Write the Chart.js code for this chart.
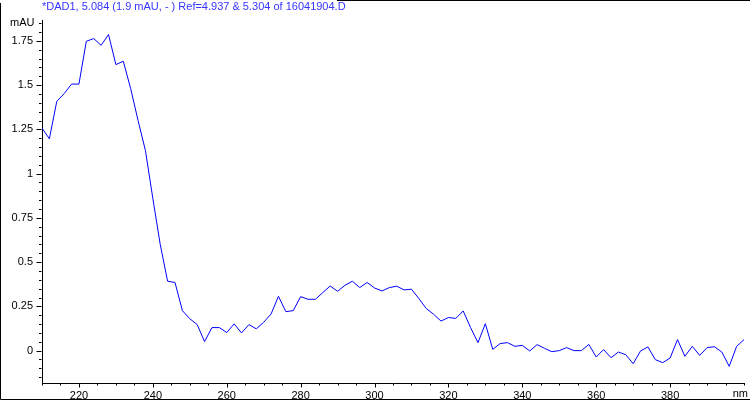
<!DOCTYPE html>
<html>
<head>
<meta charset="utf-8">
<style>
  html, body { margin: 0; padding: 0; background: #fff; }
  canvas { display: block; }
</style>
<script src="https://cdn.jsdelivr.net/npm/chart.js@4/dist/chart.umd.min.js"></script>
</head>
<body>
<canvas id="spectrum" width="750" height="401"></canvas>
<script>
// wavelength (nm) and absorbance (mAU)
const wavelengths = [
  210, 212, 214, 216, 218, 220, 222, 224, 226, 228, 230, 232, 234, 236, 238, 240,
  242, 244, 246, 248, 250, 252, 254, 256, 258, 260, 262, 264, 266, 268, 270, 272,
  274, 276, 278, 280, 282, 284, 286, 288, 290, 292, 294, 296, 298, 300, 302, 304,
  306, 308, 310, 312, 314, 316, 318, 320, 322, 324, 326, 328, 330, 332, 334, 336,
  338, 340, 342, 344, 346, 348, 350, 352, 354, 356, 358, 360, 362, 364, 366, 368,
  370, 372, 374, 376, 378, 380, 382, 384, 386, 388, 390, 392, 394, 396, 398, 400
];
const absorbance = [
  1.257, 1.197, 1.408, 1.452, 1.506, 1.506, 1.748, 1.763, 1.725, 1.786, 1.616, 1.635, 1.48, 1.30, 1.13, 0.86,
  0.60, 0.392, 0.385, 0.226, 0.18, 0.147, 0.051, 0.130, 0.130, 0.102, 0.151, 0.100, 0.147, 0.123, 0.160, 0.207,
  0.307, 0.220, 0.226, 0.305, 0.290, 0.290, 0.328, 0.365, 0.335, 0.369, 0.392, 0.356, 0.385, 0.354, 0.337, 0.356,
  0.364, 0.343, 0.347, 0.294, 0.238, 0.205, 0.167, 0.187, 0.182, 0.224, 0.13, 0.045, 0.152, 0.007, 0.040, 0.045,
  0.024, 0.030, -0.002, 0.034, 0.013, -0.006, 0.0, 0.017, 0.0, 0.0, 0.035, -0.036, 0.006, -0.040, -0.008, -0.023,
  -0.074, -0.002, 0.021, -0.051, -0.068, -0.042, 0.062, -0.032, 0.024, -0.027, 0.017, 0.022, -0.008, -0.089, 0.024, 0.062
];
const xTickLabels = [220, 240, 260, 280, 300, 320, 340, 360, 380];
const yTickLabels = [0, 0.25, 0.5, 0.75, 1, 1.25, 1.5, 1.75];

const titleText = "*DAD1, 5.084 (1.9 mAU, - ) Ref=4.937 & 5.304 of 16041904.D";
const FONT = "Liberation Sans, Arial, sans-serif";

function isLabelled(list, v) {
  return list.some(function (l) { return Math.abs(l - v) < 1e-6; });
}

// frame, title, unit labels and the long/short tick marks
const decorations = {
  id: "decorations",
  afterDraw: function (chart) {
    const ctx = chart.ctx;
    const area = chart.chartArea;
    const xs = chart.scales.x;
    const ys = chart.scales.y;
    ctx.save();
    ctx.strokeStyle = "#000";
    ctx.lineWidth = 1;
    ctx.beginPath();
    ctx.moveTo(0.5, 3); ctx.lineTo(0.5, 399.5); ctx.lineTo(750, 399.5);
    ctx.moveTo(337, 0.5); ctx.lineTo(750, 0.5);
    ctx.stroke();

    const axisY = Math.round(area.bottom) + 0.5;
    const axisX = Math.round(area.left) - 0.5;
    ctx.beginPath();
    xs.ticks.forEach(function (t) {
      const px = Math.round(xs.getPixelForValue(t.value)) + 0.5;
      const len = isLabelled(xTickLabels, t.value) ? 4 : 2;
      ctx.moveTo(px, axisY); ctx.lineTo(px, axisY + len);
    });
    ys.ticks.forEach(function (t) {
      const py = Math.round(ys.getPixelForValue(t.value)) + 0.5;
      const len = isLabelled(yTickLabels, t.value) ? 5 : 2.5;
      ctx.moveTo(axisX, py); ctx.lineTo(axisX - len, py);
    });
    ctx.stroke();

    ctx.font = "11px " + FONT;
    ctx.textBaseline = "middle";
    ctx.fillStyle = "#3535ff";
    ctx.textAlign = "left";
    ctx.fillText(titleText, 42, 7);
    ctx.fillStyle = "#000";
    ctx.fillText("mAU", 10, 23);
    ctx.textAlign = "right";
    ctx.fillText("nm", 748, 394);
    ctx.restore();
  }
};

new Chart(document.getElementById("spectrum"), {
  type: "line",
  data: {
    datasets: [{
      data: wavelengths.map(function (w, i) { return { x: w, y: absorbance[i] }; }),
      borderColor: "#0000ff",
      borderWidth: 1,
      pointRadius: 0,
      tension: 0,
      fill: false,
    }],
  },
  options: {
    responsive: false,
    animation: false,
    devicePixelRatio: 1,
    layout: { padding: { top: 20, right: 1, left: 0, bottom: 0 } },
    plugins: {
      legend: { display: false },
      tooltip: { enabled: false },
    },
    scales: {
      x: {
        type: "linear",
        min: 210,
        max: 400,
        afterFit: function (scale) { scale.height = 18; },
        grid: { display: false, drawTicks: false },
        border: { display: true, color: "#000", width: 1 },
        ticks: {
          stepSize: 5,
          autoSkip: false,
          maxRotation: 0,
          includeBounds: false,
          padding: 6,
          color: "#000",
          font: { family: FONT, size: 11 },
          callback: function (v) { return isLabelled(xTickLabels, v) ? String(v) : ""; },
        },
      },
      y: {
        type: "linear",
        min: -0.183,
        max: 1.868,
        afterFit: function (scale) { scale.width = 42; },
        grid: { display: false, drawTicks: false },
        border: { display: true, color: "#000", width: 1 },
        ticks: {
          stepSize: 0.05,
          autoSkip: false,
          includeBounds: false,
          padding: 9,
          color: "#000",
          font: { family: FONT, size: 11 },
          callback: function (v) {
            for (let i = 0; i < yTickLabels.length; i++) {
              if (Math.abs(yTickLabels[i] - v) < 1e-6) return String(yTickLabels[i]);
            }
            return "";
          },
        },
      },
    },
  },
  plugins: [decorations],
});
</script>
</body>
</html>
